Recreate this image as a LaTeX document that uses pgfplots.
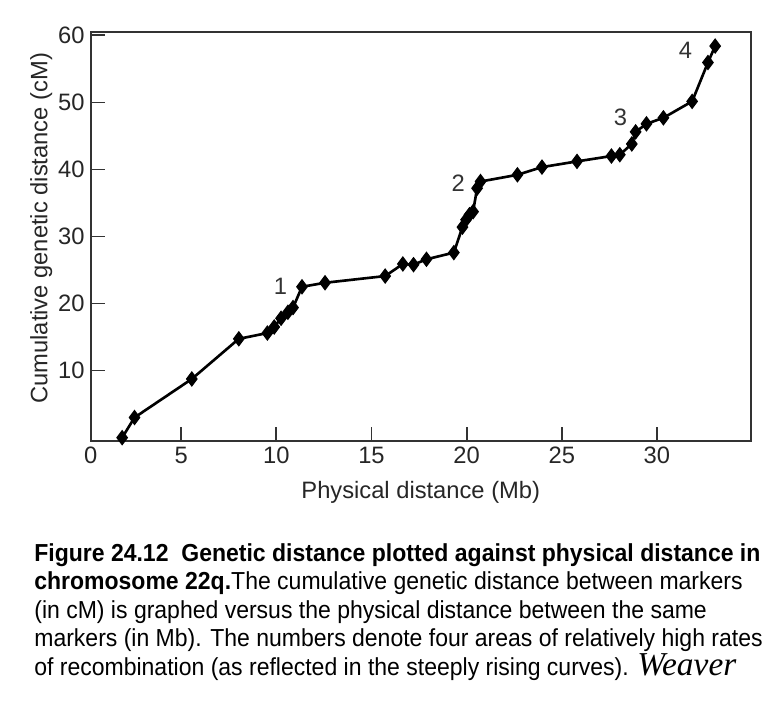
\documentclass[border=0pt]{standalone}
\usepackage{fontspec}
\setmainfont{Liberation Sans}
\newfontfamily\capfont[FakeStretch=0.935]{Liberation Sans}
\newfontfamily\handfont{Liberation Serif}
\usepackage{pgfplots}
\pgfplotsset{compat=1.18}
\definecolor{frame}{HTML}{333333}

\begin{document}
\begin{tikzpicture}
\useasboundingbox (0,0) rectangle (15.54cm,14.08cm);
\begin{axis}[
  at={(1.815cm,5.26cm)}, anchor=south west,
  width=13.2cm, height=8.18cm, scale only axis,
  xmin=0.25, xmax=34.93, ymin=-0.5, ymax=60.5,
  xtick={5,10,...,30}, ytick={10,20,...,60},
  extra x ticks={0.25}, extra x tick labels={0},
  extra x tick style={major tick length=0pt},
  tick pos=left, tick align=inside, major tick length=0.28cm,
  axis line style={draw=frame, line width=1pt},
  tick style={draw=frame, line width=1pt},
  /pgf/number format/assume math mode=true,
  ticklabel style={font=\fontsize{13.5}{15}\selectfont, text=black!85},
  xlabel={Physical distance (Mb)},
  ylabel={Cumulative genetic distance (cM)},
  label style={font=\fontsize{13.5}{15}\selectfont, text=black!85},
  xlabel style={at={(axis description cs:0.5,-0.125)}, anchor=center},
  ylabel style={at={(axis description cs:-0.075,0.52)}, anchor=center},
  clip=false]
\addplot[black, line width=1.5pt, mark=diamond*, mark size=4pt,
  mark options={solid, fill=black, draw=black, line width=0.6pt}] coordinates {
  (1.9,0) (2.55,3.0) (5.56,8.75) (8.03,14.74) (9.53,15.6) (9.89,16.5)
  (10.25,17.8) (10.61,18.7) (10.88,19.4) (11.35,22.5) (12.56,23.1)
  (15.72,24.1) (16.65,25.9) (17.21,25.8) (17.89,26.6) (19.33,27.6)
  (19.78,31.4) (19.97,32.5) (20.15,33.25) (20.34,33.7) (20.55,37.2)
  (20.73,38.2) (22.67,39.2) (23.96,40.35) (25.8,41.2) (27.61,42.0)
  (28.05,42.2) (28.68,43.8) (28.88,45.6) (29.45,46.8) (30.34,47.7)
  (31.85,50.15) (32.68,55.95) (33.06,58.4)
};
\node[font=\fontsize{13.5}{15}\selectfont, text=black!80] at (axis cs:10.22,22.5) {1};
\node[font=\fontsize{13.5}{15}\selectfont, text=black!80] at (axis cs:19.56,38.0) {2};
\node[font=\fontsize{13.5}{15}\selectfont, text=black!80] at (axis cs:28.08,47.7) {3};
\node[font=\fontsize{13.5}{15}\selectfont, text=black!80] at (axis cs:31.5,57.8) {4};
\end{axis}
\node[anchor=north west, align=left, inner sep=0pt,
  font=\capfont\fontsize{14}{16.2}\selectfont] at (0.68cm,3.22cm) {%
  \textbf{Figure 24.12\ \ Genetic distance plotted against physical distance in}\\
  \textbf{chromosome 22q.}The cumulative genetic distance between markers\\
  (in cM) is graphed versus the physical distance between the same\\
  markers (in Mb). The numbers denote four areas of relatively high rates\\
  of recombination (as reflected in the steeply rising curves). {\handfont\itshape\fontsize{19}{16}\selectfont Weaver}};
\end{tikzpicture}
\end{document}
